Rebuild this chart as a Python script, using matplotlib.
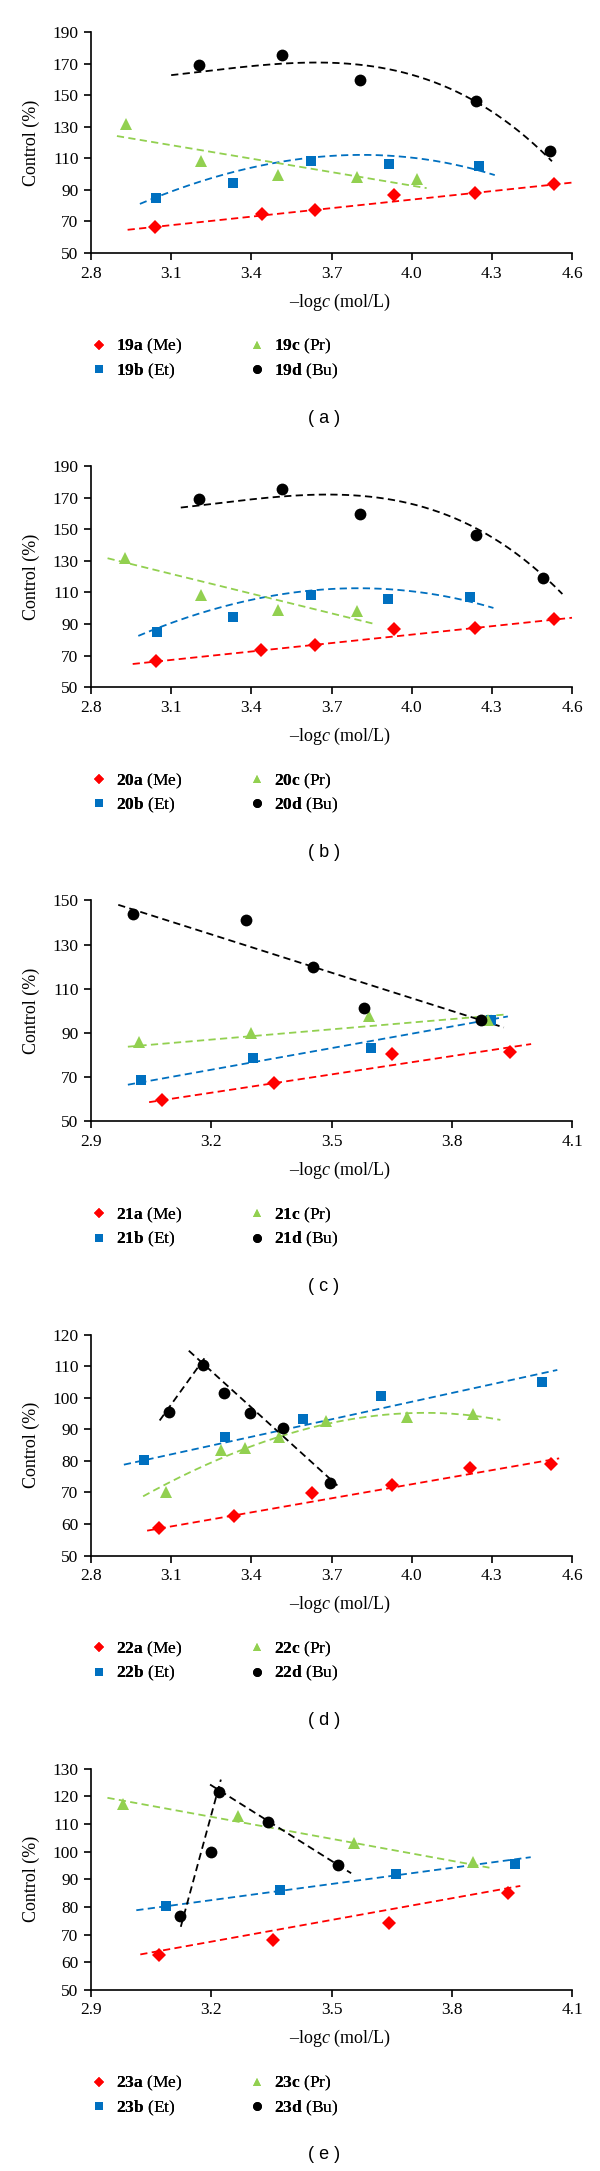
import numpy as np
import matplotlib
matplotlib.use('Agg')
import matplotlib.pyplot as plt

plt.rcParams['font.family'] = ['Liberation Serif', 'DejaVu Serif']
plt.rcParams['mathtext.fontset'] = 'custom'
plt.rcParams['mathtext.rm'] = 'Liberation Serif'
plt.rcParams['mathtext.it'] = 'Liberation Serif:italic'
plt.rcParams['mathtext.bf'] = 'Liberation Serif:bold'

# ---------------- data points ----------------
# panel (a) compounds 19
X19A = [3.038, 3.440, 3.638, 3.933, 4.236, 4.532]
Y19A = [66.5, 74.5, 77.0, 87.0, 88.0, 93.5]
X19B = [3.045, 3.330, 3.623, 3.915, 4.251]
Y19B = [84.7, 94.2, 108.3, 106.6, 105.2]
X19C = [2.930, 3.211, 3.500, 3.796, 4.020]
Y19C = [131.5, 108.3, 99.5, 98.4, 96.7]
X19D = [3.204, 3.515, 3.808, 4.239, 4.518]
Y19D = [169.4, 175.3, 159.7, 146.4, 114.6]

# panel (b) compounds 20
X20A = [3.042, 3.438, 3.637, 3.935, 4.237, 4.532]
Y20A = [66.4, 73.6, 77.0, 86.9, 87.7, 93.2]
X20B = [3.046, 3.330, 3.622, 3.913, 4.218]
Y20B = [84.7, 94.2, 108.3, 105.8, 106.9]
X20C = [2.927, 3.210, 3.498, 3.795]
Y20C = [131.7, 108.5, 99.1, 98.4]
X20D = [3.205, 3.514, 3.808, 4.239, 4.492]
Y20D = [169.0, 175.3, 159.7, 146.4, 119.3]

# panel (c) compounds 21
X21A = [3.076, 3.356, 3.650, 3.946]
Y21A = [59.7, 67.5, 80.4, 81.4]
X21B = [3.024, 3.305, 3.599, 3.897]
Y21B = [68.9, 78.8, 83.3, 96.0]
X21C = [3.019, 3.300, 3.594, 3.890]
Y21C = [86.1, 89.9, 97.5, 96.0]
X21D = [3.005, 3.287, 3.454, 3.580, 3.873]
Y21D = [143.9, 141.2, 120.0, 101.3, 95.7]

# panel (d) compounds 22
X22A = [3.053, 3.335, 3.628, 3.925, 4.220, 4.523]
Y22A = [58.8, 62.4, 69.7, 72.5, 77.6, 79.0]
X22B = [2.998, 3.302, 3.592, 3.884, 4.489]
Y22B = [80.3, 87.5, 93.3, 100.4, 105.0]
X22C = [3.079, 3.286, 3.375, 3.504, 3.679, 3.981, 4.231]
Y22C = [70.3, 83.5, 84.1, 87.5, 92.5, 93.8, 94.9]
X22D = [3.091, 3.219, 3.296, 3.396, 3.520, 3.693]
Y22D = [95.6, 110.4, 101.4, 95.2, 90.3, 72.9]

# panel (e) compounds 23
X23A = [3.069, 3.353, 3.644, 3.941]
Y23A = [62.7, 67.9, 74.2, 84.9]
X23B = [3.086, 3.371, 3.660, 3.958]
Y23B = [80.3, 86.1, 91.8, 95.5]
X23C = [2.981, 3.266, 3.556, 3.854]
Y23C = [117.3, 112.8, 103.1, 96.1]
X23D = [3.122, 3.199, 3.219, 3.342, 3.517]
Y23D = [76.7, 99.8, 121.6, 110.6, 95.0]

# ---------------- trendlines ----------------
T19A = ([2.937, 4.600], [64.7, 94.6])
T19B = ([2.983, 3.330, 3.623, 3.915, 4.251, 4.311], [81.0, 101.6, 110.0, 111.5, 103.5, 98.4])
T19C = ([2.897, 4.056], [124.1, 91.1])
T19D = ([3.100, 3.204, 3.320, 3.515, 3.608, 3.753, 3.897, 4.041, 4.186, 4.239, 4.330, 4.446, 4.525],
        [161.0, 165.8, 168.5, 170.4, 170.6, 169.0, 165.8, 159.5, 151.0, 146.4, 138.4, 122.6, 105.4])

T20A = ([2.956, 4.600], [64.7, 94.0])
T20B = ([2.977, 3.046, 3.330, 3.622, 3.841, 4.218, 4.306], [82.6, 86.9, 103.3, 110.6, 112.5, 105.2, 99.5])
T20C = ([2.862, 3.853], [131.7, 90.4])
T20D = ([3.136, 3.205, 3.600, 3.808, 4.239, 4.492, 4.564], [163.1, 165.8, 172.7, 170.0, 150.4, 123.7, 106.8])

T21A = ([3.045, 3.998], [58.7, 85.0])
T21B = ([2.992, 3.940], [66.6, 97.5])
T21C = ([2.992, 3.930], [83.8, 98.3])
T21D = ([2.968, 3.930], [148.0, 92.5])

T22A = ([3.010, 4.552], [57.9, 80.8])
T22B = ([2.923, 4.545], [78.8, 108.8])
T22C = ([2.995, 3.079, 3.286, 3.504, 3.679, 3.981, 4.040, 4.231, 4.332],
        [69.2, 72.2, 80.1, 88.5, 91.7, 94.7, 95.2, 94.3, 93.1])
T22D1 = ([3.057, 3.234], [92.8, 113.6])
T22D2 = ([3.166, 3.722], [114.9, 72.2])

T23A = ([3.023, 3.971], [62.8, 87.6])
T23B = ([3.013, 3.997], [78.8, 98.0])
T23C = ([2.941, 3.894], [119.5, 94.2])
T23D1 = ([3.124, 3.224], [72.8, 126.1])
T23D2 = ([3.197, 3.549], [124.3, 92.2])

SUBST = {'a': 'Me', 'b': 'Et', 'c': 'Pr', 'd': 'Bu'}

# ---------------- styles ----------------
STY = {
    'a': dict(color='#FF0000', marker='D', ms=7.0),
    'b': dict(color='#0070C0', marker='s', ms=7.5),
    'c': dict(color='#92D050', marker='^', ms=8.5),
    'd': dict(color='#000000', marker='o', ms=8.5),
}

PANELS = [
    dict(tag='a', num='19', xlim=(2.8, 4.6), ylim=(50, 190), ystep=20,
         data={'a': (X19A, Y19A), 'b': (X19B, Y19B), 'c': (X19C, Y19C), 'd': (X19D, Y19D)},
         trends=[('a', T19A), ('b', T19B), ('c', T19C), ('d', T19D)]),
    dict(tag='b', num='20', xlim=(2.8, 4.6), ylim=(50, 190), ystep=20,
         data={'a': (X20A, Y20A), 'b': (X20B, Y20B), 'c': (X20C, Y20C), 'd': (X20D, Y20D)},
         trends=[('a', T20A), ('b', T20B), ('c', T20C), ('d', T20D)]),
    dict(tag='c', num='21', xlim=(2.9, 4.1), ylim=(50, 150), ystep=20,
         data={'a': (X21A, Y21A), 'b': (X21B, Y21B), 'c': (X21C, Y21C), 'd': (X21D, Y21D)},
         trends=[('a', T21A), ('b', T21B), ('c', T21C), ('d', T21D)]),
    dict(tag='d', num='22', xlim=(2.8, 4.6), ylim=(50, 120), ystep=10,
         data={'a': (X22A, Y22A), 'b': (X22B, Y22B), 'c': (X22C, Y22C), 'd': (X22D, Y22D)},
         trends=[('a', T22A), ('b', T22B), ('c', T22C), ('d', T22D1), ('d', T22D2)]),
    dict(tag='e', num='23', xlim=(2.9, 4.1), ylim=(50, 130), ystep=10,
         data={'a': (X23A, Y23A), 'b': (X23B, Y23B), 'c': (X23C, Y23C), 'd': (X23D, Y23D)},
         trends=[('a', T23A), ('b', T23B), ('c', T23C), ('d', T23D1), ('d', T23D2)]),
]

W, H = 600, 2171
fig = plt.figure(figsize=(W / 100, H / 100), dpi=100)


def fx(px):
    return px / W


def fy(py):
    return 1 - py / H


PERIOD = H / 5
AX_L, AX_R = 91, 572
AX_T, AX_B = 32, 253
FS = 12.5

for i, p in enumerate(PANELS):
    off = i * PERIOD
    ax = fig.add_axes([fx(AX_L), fy(off + AX_B), (AX_R - AX_L) / W, (AX_B - AX_T) / H])
    ax.set_xlim(*p['xlim'])
    ax.set_ylim(*p['ylim'])
    ax.set_xticks(np.round(np.arange(p['xlim'][0], p['xlim'][1] + 0.01, 0.3), 1))
    ax.set_yticks(np.arange(p['ylim'][0], p['ylim'][1] + 1, p['ystep']))
    ax.xaxis.set_major_formatter(matplotlib.ticker.FormatStrFormatter('%.1f'))
    for s in ('top', 'right'):
        ax.spines[s].set_visible(False)
    for s in ('left', 'bottom'):
        ax.spines[s].set_linewidth(1.2)
    ax.tick_params(direction='out', length=5, width=1.2, labelsize=FS, pad=4)

    # trendlines: smooth polynomial through the read trendline values
    for key, (tx, ty) in p['trends']:
        tx = np.asarray(tx)
        ty = np.asarray(ty)
        deg = 1 if len(tx) == 2 else 3
        coef = np.polyfit(tx, ty, deg)
        xx = np.linspace(tx[0], tx[-1], 150)
        ax.plot(xx, np.polyval(coef, xx), color=STY[key]['color'], lw=1.3,
                dashes=(4, 2.4), zorder=2, clip_on=False)

    handles = []
    for key in 'abcd':
        xs, ys = p['data'][key]
        st = STY[key]
        h, = ax.plot(xs, ys, linestyle='none', marker=st['marker'], ms=st['ms'],
                     color=st['color'], mec=st['color'], mew=0, zorder=3, clip_on=False)
        handles.append(h)

    labels = [r'$\mathbf{%s%s}$ (%s)' % (p['num'], k, SUBST[k]) for k in 'abcd']

    # y label and x label
    fig.text(fx(31), fy(off + (AX_T + AX_B) / 2), 'Control (%)', rotation=90,
             ha='center', va='center', fontsize=FS + 0.5)
    fig.text(fx(340), fy(off + 302), '–log$\\mathit{c}$ (mol/L)', ha='center',
             va='center', fontsize=FS + 0.5)

    # legend (two columns placed separately)
    for col, idx in enumerate([(0, 1), (2, 3)]):
        lx = [91, 249][col]
        leg = fig.legend([handles[j] for j in idx], [labels[j] for j in idx],
                         loc='center left', bbox_to_anchor=(fx(lx), fy(off + 359)),
                         frameon=False, fontsize=FS, markerscale=0.75,
                         handlelength=0.9, handletextpad=0.55, labelspacing=0.3,
                         borderpad=0, borderaxespad=0)
        fig.add_artist(leg)

    fig.text(fx(324), fy(off + 418), '( %s )' % p['tag'], ha='center', va='center',
             fontsize=FS + 0.5, family='Liberation Sans')

fig.savefig('out.png', dpi=100)
